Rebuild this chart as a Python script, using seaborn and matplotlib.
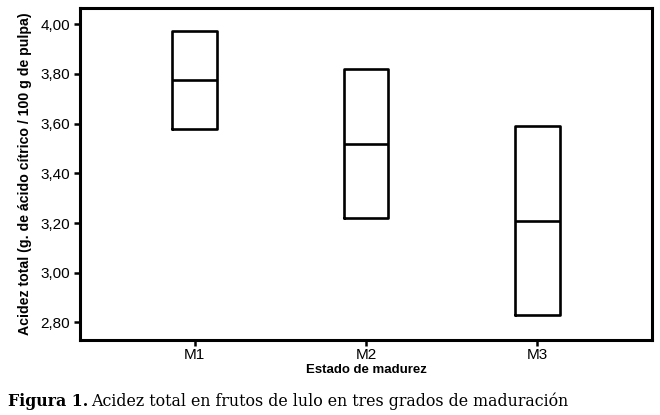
import numpy as np
import pandas as pd
import matplotlib
matplotlib.use("Agg")
import matplotlib.pyplot as plt
import seaborn as sns

# valores (limite inferior, mediana, limite superior)
estados = ["M1", "M2", "M3"]
inferior = [3.58, 3.22, 2.83]
mediana = [3.776, 3.52, 3.21]
superior = [3.974, 3.82, 3.59]
yticks = [2.80, 3.00, 3.20, 3.40, 3.60, 3.80, 4.00]

# cinco puntos por grupo para que Q1/mediana/Q3 caigan en los valores leidos
filas = []
for e, lo, me, hi in zip(estados, inferior, mediana, superior):
    for v in [lo, lo, me, hi, hi]:
        filas.append({"estado": e, "acidez": v})
df = pd.DataFrame(filas)

sns.set_theme(style="ticks")
plt.rcParams["font.family"] = ["Liberation Sans", "DejaVu Sans"]
plt.rcParams["text.color"] = "black"
plt.rcParams["axes.labelcolor"] = "black"

fig = plt.figure(figsize=(6.6, 4.15), dpi=100)
ax = fig.add_axes([0.121, 0.181, 0.867, 0.800])

lw = 1.9
sns.boxplot(data=df, x="estado", y="acidez", order=estados, width=0.26,
            whis=0, showcaps=False, showfliers=False, fill=False,
            color="black", linewidth=lw, ax=ax,
            boxprops=dict(color="black", linewidth=lw),
            medianprops=dict(color="black", linewidth=lw),
            whiskerprops=dict(linewidth=0))

ax.set_ylim(2.73, 4.066)
ax.set_xlim(-0.67, 2.67)
ax.set_yticks(yticks)
ax.set_yticklabels([f"{t:.2f}".replace(".", ",") for t in yticks])

for s in ax.spines.values():
    s.set_visible(True)
    s.set_linewidth(2.2)
    s.set_color("black")
ax.tick_params(axis="both", direction="out", length=4, width=1.8,
               labelsize=11, colors="black", pad=3)
ax.tick_params(axis="x", pad=2)

ax.set_xlabel("Estado de madurez", fontsize=9.5, fontweight="bold", labelpad=1)
ax.set_ylabel("Acidez total (g. de ácido cítrico / 100 g de pulpa)",
              fontsize=10.2, fontweight="bold", labelpad=6)

fig.text(0.012, 0.022, "Figura 1.", fontsize=11.4, fontweight="bold",
         family=["DejaVu Serif"], va="baseline")
fig.text(0.138, 0.022, "Acidez total en frutos de lulo en tres grados de maduración",
         fontsize=11.4, family=["DejaVu Serif"], va="baseline")

fig.savefig("out.png", dpi=100)
